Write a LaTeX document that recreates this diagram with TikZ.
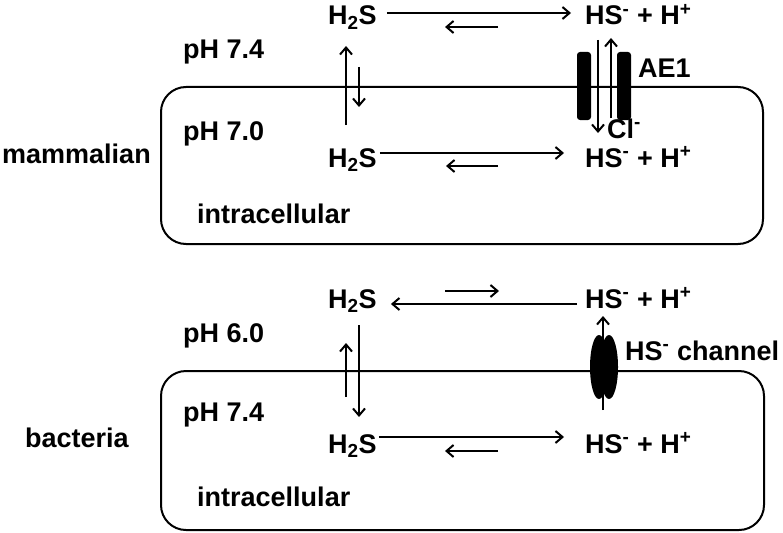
\documentclass[tikz,border=0pt]{standalone}
\usepackage{fontspec}
\setmainfont{Liberation Sans}
\usepackage{tikz}
\usetikzlibrary{arrows.meta,positioning}

\begin{document}
\begin{tikzpicture}[x=1pt,y=-1pt,
	lbl/.style={anchor=base west,inner sep=0pt,font=\fontsize{27}{31}\selectfont\bfseries},
	flow/.style={->,line width=2pt},
	cell/.style={line width=2pt,rounded corners=25pt},
	>={Straight Barb[length=7pt,width=12pt]}]
	\useasboundingbox (0,0) rectangle (783,532);

	% mammalian cell
	\draw[cell] (161,87) rectangle (763,244);
	\node[lbl] (h2sOut) at (328,25) {H\textsubscript{2}S};
	\node[lbl] (hsOut) at (585,25) {HS\textsuperscript{-} + H\textsuperscript{+}};
	\node[lbl] (phOut) at (183,59) {pH 7.4};
	\node[lbl] (phIn) at (183,140) {pH 7.0};
	\node[lbl] (mam) at (2,163) {mammalian};
	\node[lbl] (h2sIn) at (328,167) {H\textsubscript{2}S};
	\node[lbl] (hsIn) at (585,167) {HS\textsuperscript{-} + H\textsuperscript{+}};
	\node[lbl] (intraA) at (197,223) {intracellular};
	\node[lbl] (ae) at (638,78) {AE1};
	\node[lbl] (cl) at (607,138) {Cl\textsuperscript{-}};

	\fill[rounded corners=3pt] (577,52) rectangle (591,120);
	\fill[rounded corners=3pt] (617,52) rectangle (631,120);

	\coordinate (backA1) at (498,27);
	\coordinate (backA2) at (445,27);
	\coordinate (backB1) at (498,166);
	\coordinate (backB2) at (446,166);
	\coordinate (upA1) at (346,125);
	\coordinate (upA2) at (346,46);
	\coordinate (downA1) at (359,67);
	\coordinate (downA2) at (359,107);
	\coordinate (aeIn1) at (598,40);
	\coordinate (aeIn2) at (598,133);
	\coordinate (aeOut1) at (611,118);
	\coordinate (aeOut2) at (611,38);

	\path [flow] ([xshift=10pt,yshift=12pt]h2sOut.base east) edge ([xshift=-14pt,yshift=12pt]hsOut.base west);
	\path [flow] (backA1) edge (backA2);
	\path [flow] ([xshift=3pt,yshift=14pt]h2sIn.base east) edge ([xshift=-21pt,yshift=14pt]hsIn.base west);
	\path [flow] (backB1) edge (backB2);
	\path [flow] (upA1) edge (upA2);
	\path [flow] (downA1) edge (downA2);
	\path [flow] (aeIn1) edge (aeIn2);
	\path [flow] (aeOut1) edge (aeOut2);

	% bacterial cell
	\draw[cell] (161,371) rectangle (764,530);
	\node[lbl] (h2sOutB) at (328,308) {H\textsubscript{2}S};
	\node[lbl] (hsOutB) at (585,308) {HS\textsuperscript{-} + H\textsuperscript{+}};
	\node[lbl] (phOutB) at (183,342) {pH 6.0};
	\node[lbl] (phInB) at (183,421) {pH 7.4};
	\node[lbl] (bac) at (25,447) {bacteria};
	\node[lbl] (h2sInB) at (328,453) {H\textsubscript{2}S};
	\node[lbl] (hsInB) at (585,453) {HS\textsuperscript{-} + H\textsuperscript{+}};
	\node[lbl] (intraB) at (197,506) {intracellular};
	\node[lbl] (chan) at (625,360) {HS\textsuperscript{-} channel};

	\fill (599,367) ellipse [x radius=9, y radius=32];
	\fill (609,367) ellipse [x radius=9, y radius=32];

	\coordinate (fwdC1) at (445,291);
	\coordinate (fwdC2) at (499,291);
	\coordinate (backD1) at (498,451);
	\coordinate (backD2) at (445,451);
	\coordinate (upB1) at (346,397);
	\coordinate (upB2) at (346,343);
	\coordinate (downB1) at (359,325);
	\coordinate (downB2) at (359,417);
	\coordinate (chan1) at (603,410);
	\coordinate (chan2) at (603,316);

	\path [flow] ([xshift=-8pt,yshift=4pt]hsOutB.base west) edge ([xshift=14pt,yshift=4pt]h2sOutB.base east);
	\path [flow] (fwdC1) edge (fwdC2);
	\path [flow] ([xshift=2pt,yshift=16pt]h2sInB.base east) edge ([xshift=-21pt,yshift=16pt]hsInB.base west);
	\path [flow] (backD1) edge (backD2);
	\path [flow] (upB1) edge (upB2);
	\path [flow] (downB1) edge (downB2);
	\path [flow] (chan1) edge (chan2);
\end{tikzpicture}
\end{document}
